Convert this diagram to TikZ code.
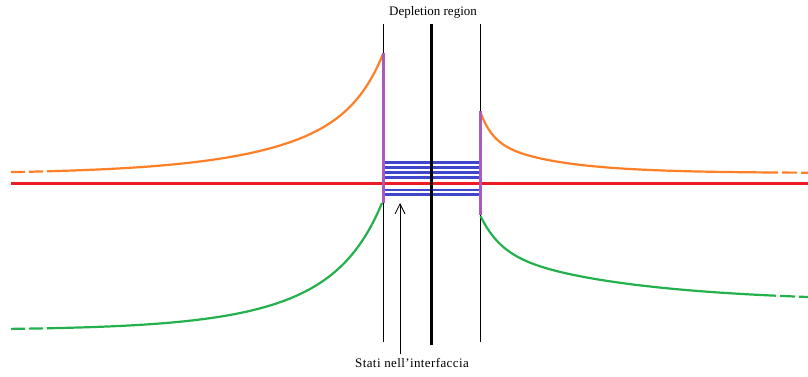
\documentclass[tikz,border=0pt]{standalone}
\usepackage{fontspec}
\setmainfont{Liberation Serif}
\usetikzlibrary{arrows.meta}
\definecolor{corange}{RGB}{255,127,39}
\definecolor{cred}{RGB}{237,28,36}
\definecolor{cblue}{RGB}{63,72,204}
\definecolor{cgreen}{RGB}{34,177,76}
\definecolor{cpurple}{RGB}{170,90,185}
\tikzset{
  band/.style={line width=2.2pt, line join=round},
  bandorange/.style={band, corange},
  bandgreen/.style={band, cgreen},
  dashleft/.style={dash pattern=on 14pt off 4pt},
  dashright/.style={dash pattern=on 15pt off 4pt, dash phase=15pt},
  thinline/.style={black, line width=1pt},
  thickline/.style={black, line width=3pt},
  statebox/.style={cblue, line width=2.5pt},
  interface/.style={cpurple, line width=3pt},
  lbl/.style={font=\fontsize{13pt}{15pt}\selectfont, inner sep=0pt}
}
\begin{document}
\begin{tikzpicture}[x=1pt,y=-1pt,
  declare function={
    lo(\x)=174-120*(0.35*exp(-(383-\x)/25)+0.65*exp(-(383-\x)/100));
    lg(\x)=330-127*(0.3*exp(-(382-\x)/28)+0.7*exp(-(382-\x)/85));
    ro(\x)=173-62*(0.45*exp(-(\x-480)/12)+0.55*exp(-(\x-480)/70));
    rg(\x)=302-87*(0.4*exp(-(\x-480)/20)+0.6*exp(-(\x-480)/140));
  }]
\useasboundingbox (0,0) rectangle (808,376);
\fill[white] (0,0) rectangle (808,376);

% coordinates
\coordinate (Ltop) at (383,24);  \coordinate (Lbot) at (383,342);
\coordinate (Mtop) at (431,24);  \coordinate (Mbot) at (431,345);
\coordinate (Rtop) at (480,24);  \coordinate (Rbot) at (480,342);
\coordinate (tip) at (400,203);

% interface states
\foreach \y in {162.7,167.5,172.3,177.3,190,194.5}
  \draw[statebox] (383,\y) -- (480,\y);

% Fermi level
\draw[cred, line width=2.2pt] (11,183.5) -- (808,183.5);

% vertical lines
\draw[thinline] (Ltop) -- (Lbot);
\draw[thinline] (Rtop) -- (Rbot);
\draw[thickline] (Mtop) -- (Mbot);

% left orange
\draw[bandorange, dashleft] plot[domain=11:58, samples=10, variable=\x] ({\x},{lo(\x)});
\draw[bandorange] plot[domain=57:383, samples=160, variable=\x] ({\x},{lo(\x)});
% right orange
\draw[bandorange] plot[domain=480.5:778, samples=200, variable=\x] ({\x},{ro(\x)});
\draw[bandorange, dashright] plot[domain=778:808, samples=8, variable=\x] ({\x},{ro(\x)});

% left green
\draw[bandgreen, dashleft] plot[domain=11:48, samples=10, variable=\x] ({\x},{lg(\x)});
\draw[bandgreen] plot[domain=47:382, samples=160, variable=\x] ({\x},{lg(\x)});
% right green
\draw[bandgreen] plot[domain=480.5:776, samples=200, variable=\x] ({\x},{rg(\x)});
\draw[bandgreen, dashright] plot[domain=776:808, samples=8, variable=\x] ({\x},{rg(\x)});

% interface segments
\draw[interface] (383,53) -- (383,203);
\draw[interface] (480,111) -- (480,215);

% labels
\node[lbl] (dep) at (433,12) {Depletion region};
\node[lbl, font=\fontsize{13pt}{15pt}\selectfont\addfontfeature{LetterSpace=3}] (stati) at (412,363) {Stati\ nell'interfaccia};

% arrow
\draw[thinline, line width=0.8pt, -{Straight Barb[length=10pt,width=10pt]}] (tip |- stati.north) ++(0,-4) -- (tip);
\end{tikzpicture}
\end{document}
